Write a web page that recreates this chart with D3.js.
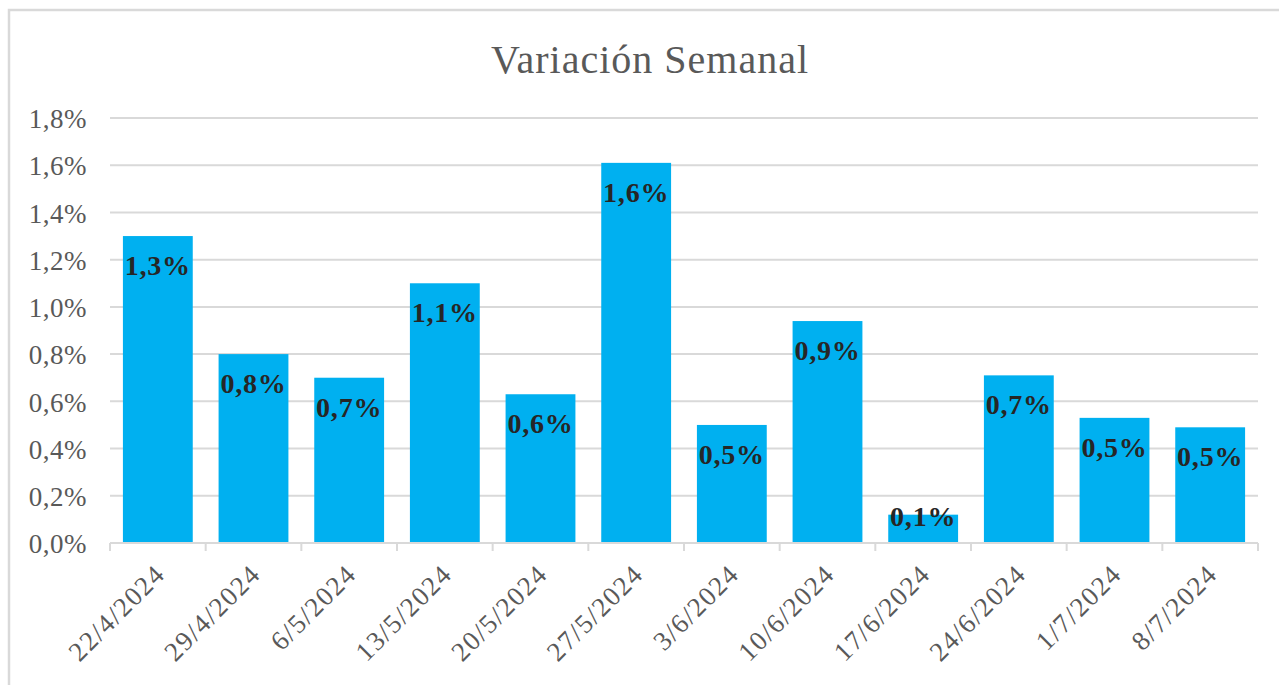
<!DOCTYPE html>
<html>
<head>
<meta charset="utf-8">
<script src="https://cdn.jsdelivr.net/npm/d3@7"></script>
<style>
  body { margin: 0; background: #fff; }
  svg { display: block; }
  text { font-family: "Liberation Serif", "DejaVu Serif", serif; }
</style>
</head>
<body>
<svg id="chart" width="1279" height="685"></svg>
<script>
// weekly variation, in %
const weeks = ['22/4/2024', '29/4/2024', '6/5/2024', '13/5/2024', '20/5/2024', '27/5/2024',
    '3/6/2024', '10/6/2024', '17/6/2024', '24/6/2024', '1/7/2024', '8/7/2024'];
const variation = [1.30, 0.80, 0.70, 1.10, 0.63, 1.61, 0.50, 0.94, 0.12, 0.71, 0.53, 0.49];
const yTicks = [0, 0.2, 0.4, 0.6, 0.8, 1.0, 1.2, 1.4, 1.6, 1.8];

const svg = d3.select('#chart');
const margin = { left: 110, right: 21, top: 118, bottom: 142 };
const width = +svg.attr('width');
const height = +svg.attr('height');

const fmt = v => d3.format('.1f')(v).replace('.', ',') + '%';

// chart border (cropped on the right and bottom)
svg.append('rect')
    .attr('x', 9).attr('y', 10)
    .attr('width', 1282).attr('height', 690)
    .attr('fill', 'none')
    .attr('stroke', '#d9d9d9')
    .attr('stroke-width', 2.5);

svg.append('text')
    .attr('x', 650).attr('y', 73)
    .attr('text-anchor', 'middle')
    .attr('fill', '#595959')
    .style('font-size', '40px')
    .style('letter-spacing', '1px')
    .text('Variación Semanal');

const x = d3.scaleBand()
    .domain(weeks)
    .range([margin.left, width - margin.right])
    .paddingInner(0.27)
    .paddingOuter(0.135);

const y = d3.scaleLinear()
    .domain([0, 1.8])
    .range([height - margin.bottom, margin.top]);

// gridlines
svg.append('g')
    .selectAll('line')
    .data(yTicks.slice(1))
    .join('line')
    .attr('x1', margin.left)
    .attr('x2', width - margin.right)
    .attr('y1', d => y(d))
    .attr('y2', d => y(d))
    .attr('stroke', '#d9d9d9')
    .attr('stroke-width', 2);

// y labels
const yAxis = svg.append('g')
    .attr('transform', `translate(${margin.left - 10},0)`)
    .call(d3.axisLeft(y).tickValues(yTicks).tickFormat(fmt).tickSize(0));
yAxis.select('.domain').remove();
yAxis.selectAll('text')
    .attr('x', -13)
    .attr('dy', '0.36em')
    .attr('fill', '#595959')
    .style('font-size', '27px')
    .style('letter-spacing', '0.5px')
    .style('font-family', '"Liberation Serif", serif');

// bars
svg.append('g')
    .selectAll('rect')
    .data(variation)
    .join('rect')
    .attr('x', (d, i) => x(weeks[i]))
    .attr('y', d => y(d))
    .attr('width', x.bandwidth())
    .attr('height', d => y(0) - y(d))
    .attr('fill', '#00b0f0');

// data labels
svg.append('g')
    .selectAll('text')
    .data(variation)
    .join('text')
    .attr('x', (d, i) => x(weeks[i]) + x.bandwidth() / 2)
    .attr('y', d => Math.min(y(d) + 39, y(0) - 17))
    .attr('text-anchor', 'middle')
    .attr('fill', '#262626')
    .style('font-size', '28px')
    .style('letter-spacing', '0.8px')
    .style('font-weight', 'bold')
    .text(d => fmt(d));

// x axis: baseline with ticks between categories
const base = y(0);
const step = x.step();
const axisG = svg.append('g');
axisG.append('line')
    .attr('x1', margin.left).attr('x2', width - margin.right)
    .attr('y1', base).attr('y2', base)
    .attr('stroke', '#d9d9d9').attr('stroke-width', 2);
axisG.selectAll('.tick')
    .data(d3.range(weeks.length + 1))
    .join('line')
    .attr('x1', i => margin.left + i * step)
    .attr('x2', i => margin.left + i * step)
    .attr('y1', base).attr('y2', base + 8)
    .attr('stroke', '#d9d9d9').attr('stroke-width', 2);

axisG.selectAll('text')
    .data(weeks)
    .join('text')
    .attr('transform', d => `translate(${x(d) + x.bandwidth() / 2 + 2},${base + 26}) rotate(-45)`)
    .attr('text-anchor', 'end')
    .attr('dy', '0.35em')
    .attr('fill', '#595959')
    .style('font-size', '27px')
    .style('letter-spacing', '1.5px')
    .text(d => d);
</script>
</body>
</html>
